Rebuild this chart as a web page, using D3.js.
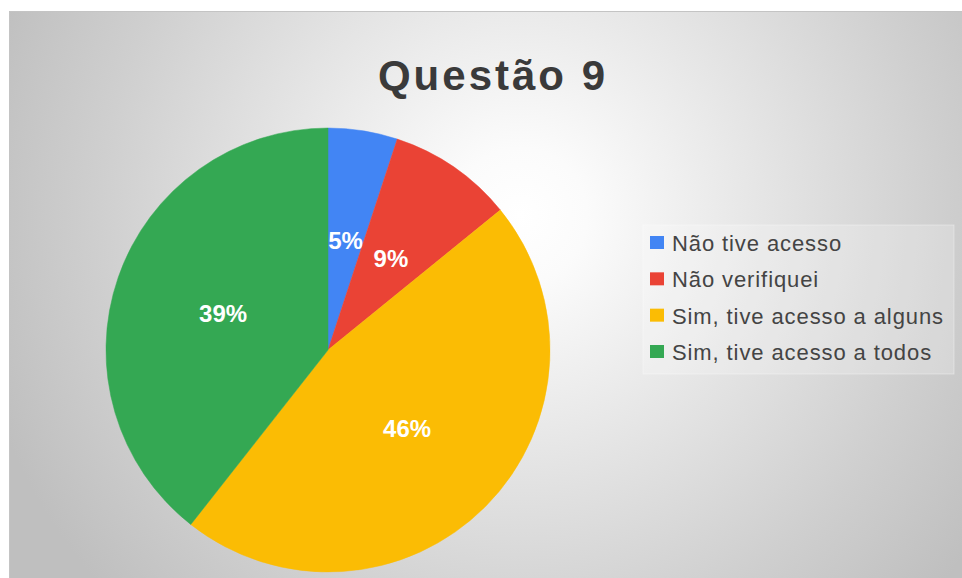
<!DOCTYPE html>
<html>
<head>
<meta charset="utf-8">
<script src="https://cdn.jsdelivr.net/npm/d3@7"></script>
<style>
  html, body { margin: 0; padding: 0; background: #ffffff; }
  svg { display: block; }
</style>
</head>
<body>
<svg id="chart" width="962" height="578"></svg>
<script>
// Survey answers for question 9 (percent of respondents)
const categories = ["Não tive acesso", "Não verifiquei", "Sim, tive acesso a alguns", "Sim, tive acesso a todos"];
const values = [5, 9, 46, 39];
const sliceLabels = ["5%", "9%", "46%", "39%"];
const colors = ["#4285F4", "#EA4335", "#FBBC04", "#34A853"];
const title = "Questão 9";

const W = 962, H = 578;
const svg = d3.select("#chart");

// Chart area with soft radial shading
const defs = svg.append("defs");
const grad = defs.append("radialGradient")
  .attr("id", "bg")
  .attr("gradientUnits", "userSpaceOnUse")
  .attr("cx", 520).attr("cy", 215).attr("r", 560);
grad.append("stop").attr("offset", 0).attr("stop-color", "#ffffff");
grad.append("stop").attr("offset", 0.12).attr("stop-color", "#fbfbfb");
grad.append("stop").attr("offset", 0.75).attr("stop-color", "#cfcfcf");
grad.append("stop").attr("offset", 1).attr("stop-color", "#bfbfbf");

const area = { x: 9, y: 11, w: W - 9, h: H - 11 };
svg.append("rect")
  .attr("x", area.x).attr("y", area.y)
  .attr("width", area.w).attr("height", area.h)
  .attr("fill", "url(#bg)");
svg.append("path")
  .attr("d", `M${area.x + 0.5},${H}V${area.y + 0.5}H${W}`)
  .attr("fill", "none")
  .attr("stroke", "#c4c4c4")
  .attr("stroke-width", 1);

// Title
svg.append("text")
  .attr("x", 493).attr("y", 90)
  .attr("text-anchor", "middle")
  .attr("font-family", "Liberation Sans, Arial, sans-serif")
  .attr("font-weight", "bold")
  .attr("font-size", 42)
  .attr("letter-spacing", 3)
  .attr("fill", "#3a3a3a")
  .text(title);

// Pie
const cx = 328, cy = 350, radius = 222;
const pie = d3.pie().sort(null).value(d => d)
  .startAngle(0).endAngle(2 * Math.PI);
const arcs = pie(values);
const arc = d3.arc().innerRadius(0).outerRadius(radius);
const labelArc = d3.arc().innerRadius(0).outerRadius(radius);

const g = svg.append("g").attr("transform", `translate(${cx},${cy})`);
g.selectAll("path.slice")
  .data(arcs)
  .join("path")
  .attr("class", "slice")
  .attr("d", arc)
  .attr("fill", (d, i) => colors[i])
  .attr("stroke", (d, i) => colors[i])
  .attr("stroke-width", 0.5);

g.selectAll("text.pct")
  .data(arcs)
  .join("text")
  .attr("class", "pct")
  .attr("transform", d => `translate(${labelArc.centroid(d)})`)
  .attr("text-anchor", "middle")
  .attr("dy", "0.36em")
  .attr("font-family", "Liberation Sans Narrow, Liberation Sans, Arial, sans-serif")
  .attr("font-weight", "bold")
  .attr("font-size", 24)
  .attr("fill", "#ffffff")
  .text((d, i) => sliceLabels[i]);

// Legend
const legend = svg.append("g").attr("transform", "translate(643,225)");
legend.append("rect")
  .attr("x", 0).attr("y", 0)
  .attr("width", 311).attr("height", 149)
  .attr("fill", "#ffffff").attr("fill-opacity", 0.22)
  .attr("stroke", "#ffffff").attr("stroke-opacity", 0.35);

const rowY = d3.scalePoint().domain(categories).range([18, 127]);
const items = legend.selectAll("g.item")
  .data(categories)
  .join("g")
  .attr("class", "item")
  .attr("transform", d => `translate(0,${rowY(d)})`);
items.append("rect")
  .attr("x", 7).attr("y", -7)
  .attr("width", 14).attr("height", 13)
  .attr("fill", (d, i) => colors[i]);
items.append("text")
  .attr("x", 29).attr("y", 0)
  .attr("dy", "0.36em")
  .attr("font-family", "Liberation Sans, Arial, sans-serif")
  .attr("font-size", 22)
  .attr("letter-spacing", 0.9)
  .attr("fill", "#444444")
  .text(d => d);
</script>
</body>
</html>
